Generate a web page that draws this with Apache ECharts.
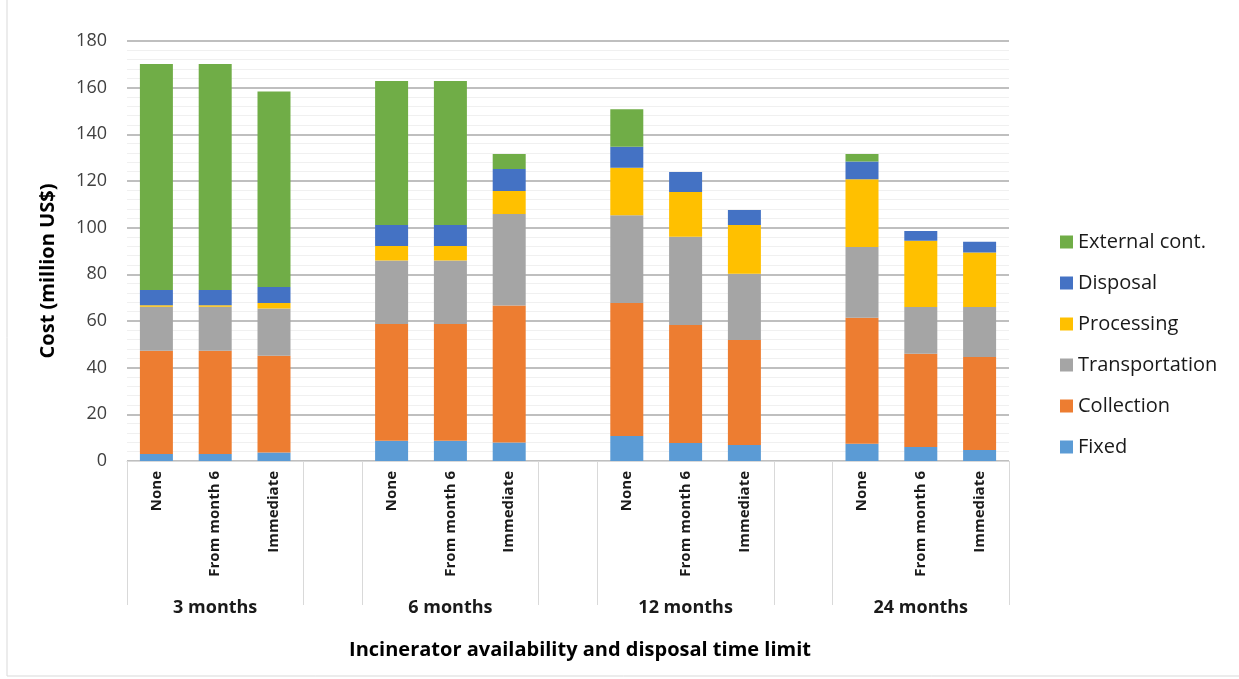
<!DOCTYPE html>
<html>
<head>
<meta charset="utf-8">
<script src="https://cdn.jsdelivr.net/npm/echarts@6/dist/echarts.min.js"></script>
<style>html,body{margin:0;padding:0;background:#fff}#c{width:1239px;height:679px}</style>
</head>
<body>
<div id="c"></div>
<script>
// ---- data ----
var groups = ['3 months', '6 months', '12 months', '24 months'];
var subCats = ['None', 'From month 6', 'Immediate'];
var fixed          = [3.0, 3.0, 3.6,   8.7, 8.7, 7.9,   10.7, 7.7, 6.9,   7.4, 6.0, 4.7];
var collection     = [44.3, 44.3, 41.5, 50.0, 50.0, 58.7, 57.0, 50.6, 45.0, 54.0, 40.0, 39.9];
var transportation = [18.8, 18.8, 20.3, 27.2, 27.2, 39.3, 37.6, 37.8, 28.4, 30.3, 20.0, 21.4];
var processing     = [0.6, 0.6, 2.3,   6.2, 6.2, 9.8,   20.4, 19.2, 20.8, 29.0, 28.4, 23.4];
var disposal       = [6.6, 6.6, 6.9,   9.0, 9.0, 9.4,   9.0, 8.6, 6.5,   7.7, 4.2, 4.6];
var externalCont   = [96.8, 96.8, 83.8, 61.8, 61.8, 6.5, 16.0, 0, 0,     3.2, 0, 0];
var yTicks = { min: 0, max: 180, interval: 20 };

// ---- build 15-slot category axis (3 bars + 1 gap per group) ----
var cats = [], groupLabels = [], boundaries = {};
groups.forEach(function (g, gi) {
  if (gi > 0) { boundaries[cats.length] = true; cats.push(''); groupLabels.push(''); boundaries[cats.length] = true; }
  subCats.forEach(function (s, si) { cats.push(s); groupLabels.push(si === 1 ? g : ''); });
});
boundaries[0] = true;
function expand(arr) {
  var out = [], k = 0;
  groups.forEach(function (g, gi) {
    if (gi > 0) out.push(null);
    for (var i = 0; i < subCats.length; i++) out.push(arr[k++]);
  });
  return out;
}

var seriesDefs = [
  ['Fixed', fixed, '#5B9BD5'],
  ['Collection', collection, '#ED7D31'],
  ['Transportation', transportation, '#A5A5A5'],
  ['Processing', processing, '#FFC000'],
  ['Disposal', disposal, '#4472C4'],
  ['External cont.', externalCont, '#70AD47']
];

var FONT = '"Open Sans", sans-serif';
var chart = echarts.init(document.getElementById('c'), null, { renderer: 'canvas' });
chart.setOption({
  animation: false,
  backgroundColor: '#fff',
  textStyle: { fontFamily: FONT },
  grid: { left: 127, right: 230, top: 41, bottom: 218, containLabel: false },
  legend: {
    orient: 'vertical', left: 1055, top: 227,
    data: seriesDefs.map(function (d) { return d[0]; }).reverse(),
    itemWidth: 13, itemHeight: 13, itemGap: 21,
    icon: 'rect',
    textStyle: { fontSize: 20, color: '#1a1a1a', fontFamily: FONT }
  },
  xAxis: [{
    type: 'category', data: cats, position: 'bottom',
    axisLine: { show: true, lineStyle: { color: '#d9d9d9', width: 1 } },
    axisTick: {
      show: true, length: 144, lineStyle: { color: '#d9d9d9', width: 1 },
      interval: function (idx) { return !!boundaries[idx]; }
    },
    axisLabel: { interval: 0, rotate: 90, margin: 10, fontSize: 15, fontWeight: 'bold', color: '#1a1a1a', fontFamily: FONT }
  }, {
    type: 'category', data: groupLabels, position: 'bottom',
    axisLine: { show: false }, axisTick: { show: false },
    axisLabel: { interval: 0, margin: 138, fontSize: 18, fontWeight: 'bold', color: '#1a1a1a', fontFamily: FONT }
  }],
  yAxis: {
    type: 'value', min: yTicks.min, max: yTicks.max, interval: yTicks.interval,
    axisLine: { show: false }, axisTick: { show: false },
    axisLabel: { fontSize: 18, color: '#404040', margin: 20, fontFamily: FONT },
    splitLine: { lineStyle: { color: '#bfbfbf', width: 2 } },
    minorTick: { show: false, splitNumber: 5 },
    minorSplitLine: { show: true, lineStyle: { color: '#f0f0f0', width: 1 } }
  },
  graphic: [
    { type: 'rect', shape: { x: 7, y: -10, width: 1250, height: 686 }, style: { fill: 'none', stroke: '#d9d9d9', lineWidth: 1 }, silent: true },
    { type: 'text', x: 48, y: 271, rotation: Math.PI / 2,
      style: { text: 'Cost (million US$)', font: 'bold 20px "Open Sans", sans-serif', fill: '#000', align: 'center', verticalAlign: 'middle' } },
    { type: 'text', x: 580, y: 650,
      style: { text: 'Incinerator availability and disposal time limit', font: 'bold 20px "Open Sans", sans-serif', fill: '#000', align: 'center', verticalAlign: 'middle' } }
  ],
  series: seriesDefs.map(function (d) {
    return {
      name: d[0], type: 'bar', stack: 'cost', xAxisIndex: 0,
      data: expand(d[1]), barWidth: 33,
      itemStyle: { color: d[2] }
    };
  })
});
</script>
</body>
</html>
